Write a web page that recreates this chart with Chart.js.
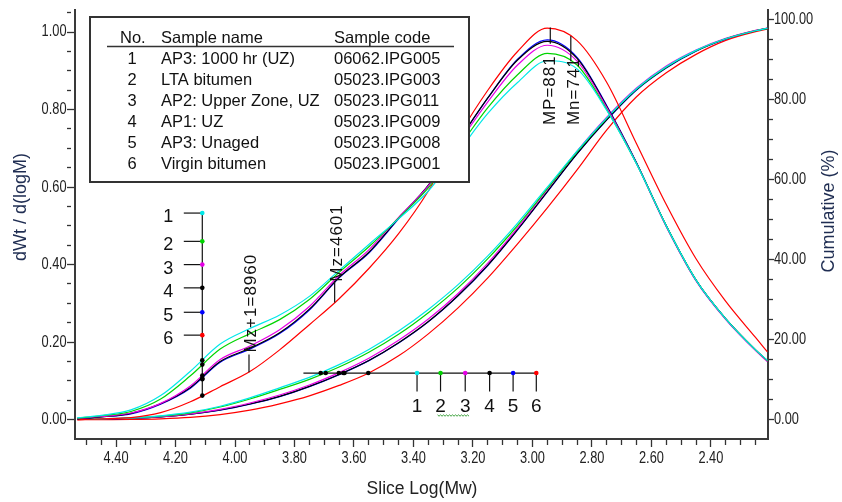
<!DOCTYPE html>
<html>
<head>
<meta charset="utf-8">
<script src="https://cdn.jsdelivr.net/npm/chart.js@4.4.1/dist/chart.umd.min.js"></script>
<style>
  html, body { margin: 0; padding: 0; background: #fff; }
  canvas { display: block; }
</style>
</head>
<body>
<canvas id="gpc" width="842" height="502"></canvas>
<script>
// slice log(Mw) points shared by every curve
const logMw = [4.53, 4.45, 4.35, 4.25, 4.15, 4.05, 3.95, 3.85, 3.75, 3.65, 3.55, 3.45, 3.35,
  3.25, 3.15, 3.05, 2.95, 2.85, 2.75, 2.65, 2.55, 2.45, 2.35, 2.25, 2.21]

const sampleNo = ['1', '2', '3', '4', '5', '6']
const sampleNames = ['AP3: 1000 hr (UZ)', 'LTA bitumen', 'AP2: Upper Zone, UZ', 'AP1: UZ', 'AP3: Unaged', 'Virgin bitumen']
const sampleCodes = ['06062.IPG005', '05023.IPG003', '05023.IPG011', '05023.IPG009', '05023.IPG008', '05023.IPG001']

// dWt / d(logM)
const diff1 = [0.005, 0.011, 0.025, 0.062, 0.125, 0.195, 0.235, 0.27, 0.318, 0.385, 0.452, 0.518, 0.59,
  0.69, 0.79, 0.87, 0.926, 0.905, 0.798, 0.66, 0.50, 0.36, 0.26, 0.18, 0.153]
const diff2 = [0.004, 0.010, 0.021, 0.053, 0.113, 0.182, 0.222, 0.258, 0.31, 0.38, 0.446, 0.52, 0.598,
  0.70, 0.805, 0.89, 0.945, 0.915, 0.80, 0.66, 0.50, 0.36, 0.26, 0.18, 0.152]
const diff3 = [0.003, 0.008, 0.017, 0.042, 0.087, 0.155, 0.19, 0.232, 0.292, 0.372, 0.438, 0.522, 0.603,
  0.712, 0.82, 0.915, 0.966, 0.925, 0.805, 0.66, 0.498, 0.358, 0.258, 0.178, 0.150]
const diff4 = [0.002, 0.007, 0.016, 0.041, 0.083, 0.150, 0.184, 0.224, 0.285, 0.367, 0.432, 0.52, 0.605,
  0.718, 0.83, 0.928, 0.976, 0.932, 0.808, 0.662, 0.50, 0.36, 0.26, 0.18, 0.152]
const diff5 = [0.002, 0.007, 0.015, 0.040, 0.081, 0.148, 0.182, 0.222, 0.283, 0.366, 0.43, 0.518, 0.603,
  0.717, 0.83, 0.93, 0.980, 0.935, 0.81, 0.663, 0.50, 0.36, 0.26, 0.18, 0.152]
const diff6 = [0.000, 0.002, 0.005, 0.018, 0.046, 0.085, 0.124, 0.18, 0.245, 0.312, 0.39, 0.48, 0.59,
  0.73, 0.85, 0.95, 1.01, 0.978, 0.87, 0.712, 0.555, 0.415, 0.305, 0.212, 0.175]

// cumulative (%)
const cum1 = [0.2, 0.3, 0.5, 1.0, 1.9, 3.4, 5.5, 8.0, 10.6, 13.8, 17.6, 22.2, 27.6,
  33.8, 41.0, 49.2, 58.2, 67.2, 75.5, 82.8, 88.3, 92.4, 95.3, 97.3, 97.9]
const cum2 = [0.15, 0.25, 0.45, 0.9, 1.75, 3.2, 5.2, 7.6, 10.1, 13.2, 16.9, 21.4, 26.8,
  33.0, 40.3, 48.6, 57.8, 67.0, 75.4, 82.7, 88.2, 92.3, 95.3, 97.3, 97.9]
const cum3 = [0.1, 0.2, 0.4, 0.8, 1.5, 2.6, 4.2, 6.2, 8.7, 11.8, 15.4, 19.9, 25.2,
  31.6, 39.2, 48.0, 57.6, 67.2, 75.7, 83.0, 88.5, 92.5, 95.4, 97.4, 98.0]
const cum4 = [0.1, 0.2, 0.4, 0.75, 1.4, 2.45, 3.95, 5.85, 8.35, 11.35, 14.85, 19.3, 24.6,
  31.1, 38.7, 47.6, 57.1, 66.6, 75.1, 82.6, 88.1, 92.3, 95.3, 97.35, 97.9]
const cum5 = [0.1, 0.2, 0.4, 0.75, 1.4, 2.4, 3.9, 5.8, 8.3, 11.3, 14.8, 19.2, 24.5,
  31.0, 38.6, 47.5, 57.0, 66.5, 75.0, 82.5, 88.0, 92.2, 95.2, 97.3, 97.9]
const cum6 = [0.0, 0.05, 0.1, 0.25, 0.6, 1.3, 2.4, 4.0, 6.0, 8.6, 11.7, 16.0, 21.5,
  28.0, 35.5, 44.0, 53.0, 62.5, 72.5, 80.8, 86.8, 91.4, 94.9, 97.1, 97.7]

// averages marked on the curves
const markerLabels = ['Mz+1=8960', 'Mz=4601', 'MP=881', 'Mn=741']
const markerX = [3.953, 3.665, 2.94, 2.871]

// where each curve crosses the two keys
const keyLogMw = 4.11
const keyDotsDiff = [0.153, 0.142, 0.114, 0.107, 0.104, 0.062]
const keyCum = 11.7
const keyDotsCum = [3.712, 3.695, 3.651, 3.636, 3.632, 3.552]
const keyCumX = [3.388, 3.309, 3.226, 3.144, 3.065, 2.987]

// tick labels
const xMajor = [4.40, 4.20, 4.00, 3.80, 3.60, 3.40, 3.20, 3.00, 2.80, 2.60, 2.40]
const leftMajor = [0, 0.2, 0.4, 0.6, 0.8, 1.0]
const rightMajor = [0, 20, 40, 60, 80, 100]

const colors = ['#00e8e8', '#00d400', '#e600e6', '#000000', '#0000ff', '#ff0000']
const SANS = "'Liberation Sans', Arial, sans-serif"

const steps = (from, to, step) => {
  const out = []
  for (let v = from; v <= to + 1e-9; v += step) out.push(Math.round(v * 1000) / 1000)
  return out
}
const isMajor = (v, majors) => majors.some(m => Math.abs(m - v) < 1e-6)

const diffSeries = [diff1, diff2, diff3, diff4, diff5, diff6]
const cumSeries = [cum1, cum2, cum3, cum4, cum5, cum6]
const datasets = []
diffSeries.forEach((vals, i) => datasets.push({
  label: sampleNames[i],
  data: vals.map((y, j) => ({ x: logMw[j], y })),
  yAxisID: 'y', borderColor: colors[i], borderWidth: 1.2,
  pointRadius: 0, cubicInterpolationMode: 'monotone', fill: false,
}))
cumSeries.forEach((vals, i) => datasets.push({
  label: sampleNames[i] + ' cum',
  data: vals.map((y, j) => ({ x: logMw[j], y })),
  yAxisID: 'y2', borderColor: colors[i], borderWidth: 1.2,
  pointRadius: 0, cubicInterpolationMode: 'monotone', fill: false,
}))

// tick marks come from chart.js, the (condensed) labels are drawn by the plugin below
function axis(majors, minors, majorLen, minorLen, extra) {
  return Object.assign({
    type: 'linear',
    afterBuildTicks: s => { s.ticks = minors.map(v => ({ value: v })) },
    grid: {
      drawOnChartArea: false, tickLength: majorLen, tickColor: '#333', tickWidth: 1.3,
      tickBorderDash: ctx => (ctx.tick && isMajor(ctx.tick.value, majors) ? [] : [minorLen, 60]),
    },
    border: { display: true, color: '#3a3a3a', width: 2 },
    ticks: { display: false },
  }, extra)
}

function vtext(ctx, str, x, y, align, font, spacing) {
  ctx.save()
  ctx.translate(x, y)
  ctx.rotate(-Math.PI / 2)
  ctx.font = font
  ctx.textAlign = align
  ctx.textBaseline = 'middle'
  ctx.letterSpacing = spacing || '0px'
  ctx.fillText(str, 0, 0)
  ctx.restore()
}

function narrow(ctx, str, x, y, align) {
  ctx.save()
  ctx.translate(x, y)
  ctx.scale(0.8, 1)
  ctx.textAlign = align
  ctx.textBaseline = 'middle'
  ctx.fillText(str, 0, 0)
  ctx.restore()
}

function seg(ctx, x1, y1, x2, y2) {
  ctx.beginPath(); ctx.moveTo(x1, y1); ctx.lineTo(x2, y2); ctx.stroke()
}

function dot(ctx, x, y, c) {
  ctx.fillStyle = c
  ctx.beginPath(); ctx.arc(x, y, 2.3, 0, Math.PI * 2); ctx.fill()
}

const annotate = {
  id: 'annotate',
  afterDatasetsDraw(chart) {
    const { ctx } = chart
    const { x, y, y2 } = chart.scales
    const markFont = '17px ' + SANS
    ctx.save()
    ctx.strokeStyle = '#111'
    ctx.lineWidth = 1.2
    ctx.fillStyle = '#111'

    // Mz+1, Mz, MP, Mn ticks and labels
    const tickSpan = [[0.122, 0.168], [0.302, 0.358], [1.012, 0.97], [0.99, 0.925]]
    const labelBase = [0.173, 0.356, 0.76, 0.76]
    const labelDx = [2, 3, 0.5, 3.5]
    markerX.forEach((mx, i) => {
      const px = x.getPixelForValue(mx)
      seg(ctx, px, y.getPixelForValue(tickSpan[i][0]), px, y.getPixelForValue(tickSpan[i][1]))
      ctx.fillStyle = '#111'
      vtext(ctx, markerLabels[i], px + labelDx[i], y.getPixelForValue(labelBase[i]), 'left', markFont, '1px')
    })

    // vertical key for the differential curves
    const keyLevels = [0.533, 0.460, 0.400, 0.340, 0.277, 0.218]
    const kx = x.getPixelForValue(keyLogMw)
    seg(ctx, kx, y.getPixelForValue(keyDotsDiff[5]), kx, y.getPixelForValue(keyLevels[0]))
    keyLevels.forEach((lv, i) => {
      const py = y.getPixelForValue(lv)
      ctx.strokeStyle = '#111'
      seg(ctx, kx - 18.5, py, kx, py)
      ctx.fillStyle = '#111'
      ctx.font = '18px ' + SANS
      ctx.textAlign = 'center'; ctx.textBaseline = 'middle'
      ctx.fillText(sampleNo[i], kx - 34, py + 4)
      dot(ctx, kx, py, colors[i])
    })
    keyDotsDiff.forEach(v => dot(ctx, kx, y.getPixelForValue(v), '#000'))

    // horizontal key for the cumulative curves
    const ky = y2.getPixelForValue(keyCum)
    ctx.strokeStyle = '#111'
    seg(ctx, x.getPixelForValue(3.77), ky, x.getPixelForValue(keyCumX[5]), ky)
    keyCumX.forEach((v, i) => {
      const px = x.getPixelForValue(v)
      ctx.strokeStyle = '#111'
      seg(ctx, px, ky, px, ky + 18.5)
      ctx.fillStyle = '#111'
      ctx.font = '19px ' + SANS
      ctx.textAlign = 'center'; ctx.textBaseline = 'middle'
      ctx.fillText(sampleNo[i], px, ky + 34)
      dot(ctx, px, ky, colors[i])
    })
    keyDotsCum.forEach(v => dot(ctx, x.getPixelForValue(v), ky, '#000'))

    // spell-check squiggle under "2 3"
    const sx0 = x.getPixelForValue(keyCumX[1]) - 3
    const sx1 = x.getPixelForValue(keyCumX[2]) + 5
    ctx.strokeStyle = '#3aa03a'
    ctx.lineWidth = 1
    ctx.beginPath()
    for (let sx = sx0, k = 0; sx <= sx1; sx += 1.5, k++) {
      const sy = ky + 42 + (k % 2 ? 1.2 : -0.2)
      if (k === 0) ctx.moveTo(sx, sy); else ctx.lineTo(sx, sy)
    }
    ctx.stroke()

    // sample table
    ctx.fillStyle = '#fff'
    ctx.fillRect(90, 17, 379, 165)
    ctx.strokeStyle = '#333'
    ctx.lineWidth = 2
    ctx.strokeRect(90, 17, 379, 165)
    ctx.lineWidth = 1.5
    seg(ctx, 107, 46.5, 454, 46.5)
    ctx.fillStyle = '#111'
    ctx.font = '16.5px ' + SANS
    ctx.textBaseline = 'middle'
    ctx.textAlign = 'left'
    ctx.fillText('No.', 120, 38)
    ctx.fillText('Sample name', 161, 38)
    ctx.fillText('Sample code', 334, 38)
    sampleNo.forEach((n, i) => {
      const ry = 59.5 + i * 20.9
      ctx.textAlign = 'center'
      ctx.fillText(n, 132, ry)
      ctx.textAlign = 'left'
      ctx.fillText(sampleNames[i], 161, ry)
      ctx.fillText(sampleCodes[i], 334, ry)
    })
    ctx.restore()
  },
  afterDraw(chart) {
    const { ctx } = chart
    const { x, y, y2 } = chart.scales
    ctx.save()
    // tick labels
    ctx.fillStyle = '#222'
    ctx.font = '16px ' + SANS
    xMajor.forEach(v => narrow(ctx, v.toFixed(2), x.getPixelForValue(v), x.top + 20, 'center'))
    leftMajor.forEach(v => narrow(ctx, v.toFixed(2), y.right - 8.5, y.getPixelForValue(v), 'right'))
    rightMajor.forEach(v => narrow(ctx, v.toFixed(2), y2.left + 6, y2.getPixelForValue(v), 'left'))
    // axis titles
    ctx.fillStyle = '#1f2d52'
    vtext(ctx, 'dWt / d(logM)', 21, 207, 'center', '18px ' + SANS)
    vtext(ctx, 'Cumulative (%)', 829, 211, 'center', '18px ' + SANS)
    ctx.fillStyle = '#222'
    ctx.font = '17.5px ' + SANS
    ctx.textAlign = 'center'
    ctx.textBaseline = 'alphabetic'
    ctx.fillText('Slice Log(Mw)', 422, 493.5)
    ctx.restore()
  },
}

new Chart(document.getElementById('gpc'), {
  type: 'line',
  data: { datasets },
  plugins: [annotate],
  options: {
    responsive: false,
    animation: false,
    layout: { padding: { top: 10, left: 0, right: 0, bottom: 0 } },
    plugins: { legend: { display: false }, tooltip: { enabled: false } },
    scales: {
      x: axis(xMajor, steps(2.25, 4.5, 0.05), 8, 5, {
        position: 'bottom', reverse: true, min: 2.208, max: 4.538,
        afterFit: s => { s.height = 63 },
      }),
      y: axis(leftMajor, steps(0, 1.05, 0.05), 8, 4, {
        position: 'left', min: -0.05, max: 1.057,
        afterFit: s => { s.width = 75 },
      }),
      y2: axis(rightMajor, steps(0, 100, 5), 6, 4, {
        position: 'right', min: -4.8, max: 102.5,
        afterFit: s => { s.width = 74 },
      }),
    },
  },
})
</script>
</body>
</html>
